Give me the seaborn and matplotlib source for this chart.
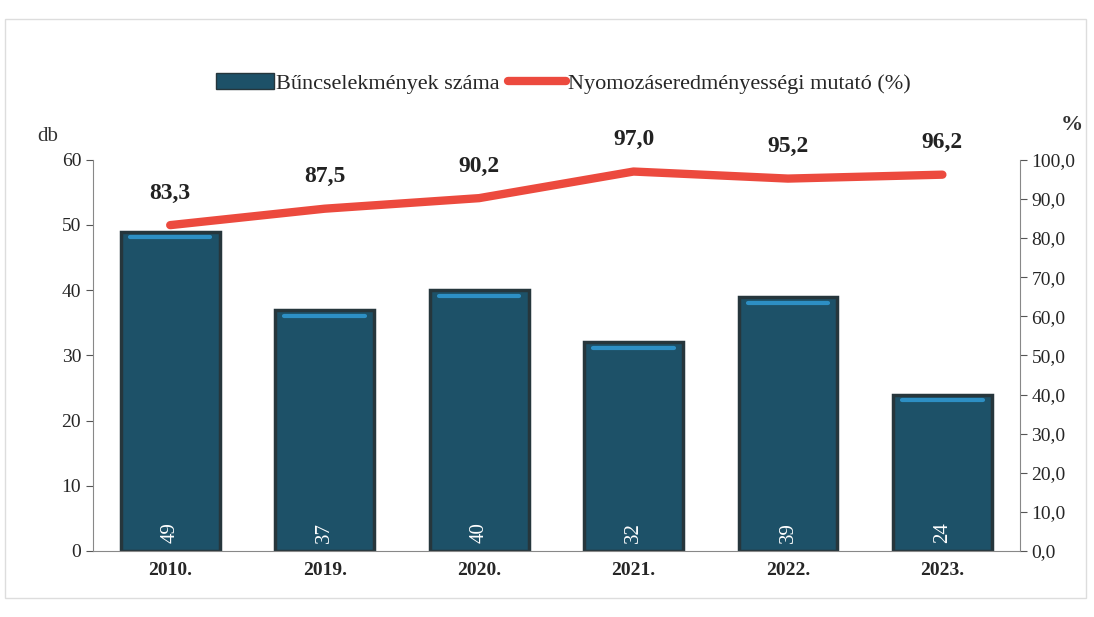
import matplotlib
matplotlib.use("Agg")
import matplotlib.pyplot as plt
import seaborn as sns
import pandas as pd
from matplotlib.patches import Rectangle
from matplotlib.lines import Line2D
from matplotlib.ticker import FuncFormatter

evek = ["2010.", "2019.", "2020.", "2021.", "2022.", "2023."]
buncselekmenyek = [49, 37, 40, 32, 39, 24]
mutato = [83.3, 87.5, 90.2, 97.0, 95.2, 96.2]

sns.set_style("white")
plt.rcParams["font.family"] = ["Liberation Serif", "DejaVu Serif"]

fig = plt.figure(figsize=(10.94, 6.17), dpi=100)
ax = fig.add_axes([0.085, 0.107, 0.847, 0.634])

df = pd.DataFrame({"ev": evek, "db": buncselekmenyek, "pct": mutato})

sns.barplot(data=df, x="ev", y="db", color="#1d5168", width=0.64,
            edgecolor="#26363c", linewidth=2.5, saturation=1, ax=ax)

# felső világos csík a hasábokon
for p in ax.patches:
    ax.plot([p.get_x() + 0.06, p.get_x() + p.get_width() - 0.06],
            [p.get_height() - 0.9, p.get_height() - 0.9],
            color="#2d8fc4", lw=3, solid_capstyle="round", zorder=3)

for i, v in enumerate(buncselekmenyek):
    ax.text(i, 1.2, str(v), rotation=90, ha="center", va="bottom",
            color="white", fontsize=15, zorder=4)

ax.set_ylim(0, 60)
ax.set_xlim(-0.5, 5.5)
ax.set_yticks(range(0, 61, 10))
ax.tick_params(axis="y", labelsize=14, length=5, color="#555555", direction="out")
ax.tick_params(axis="x", labelsize=14, length=0, pad=8)
for lbl in ax.get_xticklabels():
    lbl.set_fontweight("bold")
ax.set_xlabel("")
ax.set_ylabel("")
for s in ["top", "right"]:
    ax.spines[s].set_visible(False)
ax.spines["left"].set_color("#888888")
ax.spines["bottom"].set_color("#888888")

ax2 = ax.twinx()
sns.lineplot(x=range(len(evek)), y=mutato, color="#ec4a3e", lw=6, ax=ax2,
             solid_capstyle="round")
ax2.set_ylim(0, 100)
ax2.set_yticks(range(0, 101, 10))
ax2.yaxis.set_major_formatter(FuncFormatter(lambda v, _: f"{v:.1f}".replace(".", ",")))
ax2.tick_params(axis="y", labelsize=14, length=5, color="#555555")
for s in ["top", "left", "bottom"]:
    ax2.spines[s].set_visible(False)
ax2.spines["right"].set_color("#888888")

for i, v in enumerate(mutato):
    ax2.text(i, v + 5.5, f"{v:.1f}".replace(".", ","), ha="center", va="bottom",
             fontsize=17, fontweight="bold", color="#222222")

fig.text(0.034, 0.772, "db", fontsize=15, color="#333333")
fig.text(0.97, 0.79, "%", fontsize=16, fontweight="bold", color="#333333")

handles = [Rectangle((0, 0), 1, 1, facecolor="#1d5168", edgecolor="#26363c"),
           Line2D([0], [0], color="#ec4a3e", lw=6)]
fig.legend(handles, ["Bűncselekmények száma", "Nyomozáseredményességi mutató (%)"],
           loc="center", bbox_to_anchor=(0.515, 0.865), ncol=2, frameon=False,
           fontsize=16, handlelength=2.6, handletextpad=0.1, columnspacing=0.4)

# keret
fig.patches.append(Rectangle((0.005, 0.03), 0.988, 0.94, transform=fig.transFigure,
                             fill=False, edgecolor="#dddddd", lw=1))

fig.savefig("out.png", dpi=100)
